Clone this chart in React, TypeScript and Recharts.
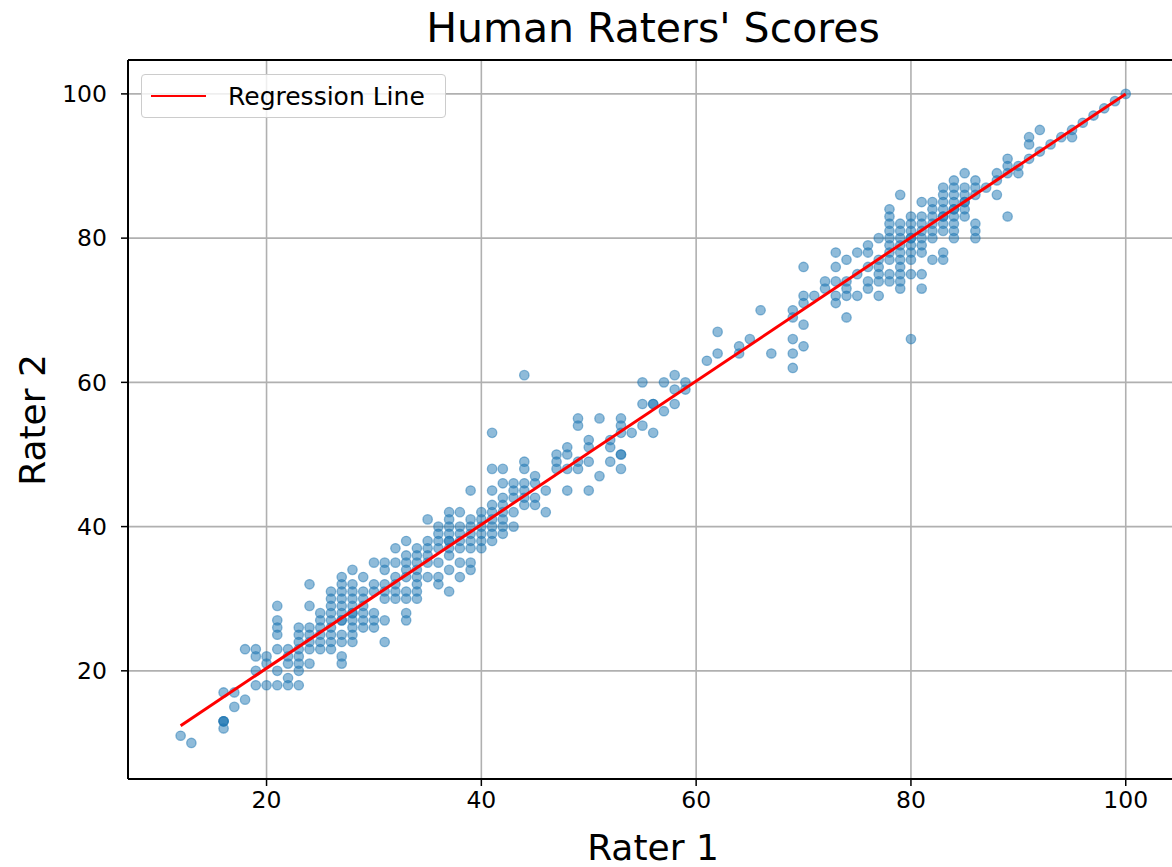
import React from 'react';
import { ScatterChart, Scatter, XAxis, YAxis, CartesianGrid, ReferenceLine } from 'recharts';

// Rater 1 score -> list of Rater 2 scores
const scoreColumns: [number, number[]][] = [
  [12, [11]],
  [13, [10]],
  [16, [13, 13, 13, 12, 17]],
  [17, [17, 15]],
  [18, [16, 23]],
  [19, [23, 22, 20, 18]],
  [20, [22, 21, 18]],
  [21, [29, 27, 26, 25, 23, 20, 18]],
  [22, [23, 22, 21, 19, 18]],
  [23, [26, 25, 24, 23, 22, 21, 20, 18]],
  [24, [32, 29, 26, 25, 24, 23, 21]],
  [25, [28, 27, 26, 25, 24, 23]],
  [26, [31, 30, 29, 28, 27, 26, 25, 24, 23]],
  [27, [33, 32, 31, 30, 29, 28, 27, 27, 25, 24, 22, 21]],
  [28, [34, 32, 31, 30, 29, 28, 28, 27, 26, 25, 24]],
  [29, [33, 31, 30, 29, 28, 27, 26]],
  [30, [35, 32, 31, 28, 27, 26]],
  [31, [35, 34, 32, 31, 30, 27, 24]],
  [32, [37, 35, 33, 32, 31, 30]],
  [33, [38, 36, 35, 34, 33, 31, 30, 28, 27]],
  [34, [37, 36, 35, 34, 33, 32, 31, 30]],
  [35, [41, 38, 37, 36, 35, 33]],
  [36, [40, 39, 38, 37, 35, 33, 32]],
  [37, [42, 41, 40, 39, 38, 38, 37, 36, 34, 31]],
  [38, [42, 40, 39, 38, 37, 35, 33]],
  [39, [45, 41, 40, 39, 38, 37, 35, 34]],
  [40, [42, 41, 40, 39, 38, 37]],
  [41, [53, 48, 45, 43, 42, 41, 40, 39, 38]],
  [42, [48, 46, 44, 43, 42, 41, 40, 39]],
  [43, [46, 45, 44, 42, 40]],
  [44, [61, 49, 48, 46, 45, 44, 43]],
  [45, [47, 46, 44, 43]],
  [46, [45, 42]],
  [47, [50, 49, 48]],
  [48, [51, 50, 48, 45]],
  [49, [55, 54, 49, 48]],
  [50, [52, 51, 49, 45]],
  [51, [55, 47]],
  [52, [52, 51, 49]],
  [53, [55, 54, 53, 50, 50, 48]],
  [54, [53]],
  [55, [60, 57, 54]],
  [56, [57, 57, 53]],
  [57, [60, 56]],
  [58, [61, 59, 57]],
  [59, [60, 59]],
  [61, [63]],
  [62, [67, 64]],
  [64, [65, 64]],
  [65, [66]],
  [66, [70]],
  [67, [64]],
  [69, [70, 69, 66, 64, 62]],
  [70, [76, 72, 71, 68, 65]],
  [71, [72]],
  [72, [74, 73]],
  [73, [78, 76, 74, 72, 71]],
  [74, [77, 74, 73, 72, 69]],
  [75, [78, 75, 72]],
  [76, [79, 78, 76, 74, 73]],
  [77, [80, 77, 76, 75, 74, 72]],
  [78, [84, 83, 82, 81, 80, 79, 78, 77, 75, 74]],
  [79, [86, 82, 81, 80, 79, 78, 77, 76, 75, 74, 73]],
  [80, [83, 82, 81, 80, 80, 79, 78, 77, 75, 66]],
  [81, [85, 83, 82, 81, 80, 79, 78, 75, 73]],
  [82, [85, 84, 83, 82, 81, 80, 77]],
  [83, [87, 86, 85, 84, 83, 83, 82, 81, 78, 77]],
  [84, [88, 87, 86, 85, 84, 84, 83, 82, 81, 80]],
  [85, [89, 87, 86, 85, 85, 84, 83]],
  [86, [88, 87, 86, 82, 81, 80]],
  [87, [87]],
  [88, [89, 88, 86]],
  [89, [91, 90, 89, 83]],
  [90, [90, 89]],
  [91, [94, 93, 91]],
  [92, [95, 92]],
  [93, [93]],
  [94, [94]],
  [95, [95, 94]],
  [96, [96]],
  [97, [97]],
  [98, [98]],
  [99, [99]],
  [100, [100]],
];

// fitted line end points
const regressionX = [12, 100];
const regressionY = [12.4, 100];

const xTicks = [20, 40, 60, 80, 100];
const yTicks = [20, 40, 60, 80, 100];
const xDomain = [7.1, 104.4];
const yDomain = [5.0, 104.7];

const points = scoreColumns.flatMap(([r1, r2s]) => r2s.map((r2) => ({ r1, r2 })));
const regression = regressionX.map((x, i) => ({ r1: x, r2: regressionY[i] }));

const FONT = "'DejaVu Sans', sans-serif";

const Dot = (props: any) => {
  const { cx, cy } = props;
  return (
    <circle
      cx={cx}
      cy={cy}
      r={4.7}
      fill="#1f77b4"
      fillOpacity={0.5}
      stroke="#1f77b4"
      strokeOpacity={0.5}
      strokeWidth={1.3}
    />
  );
};

const LegendBox = () => (
  <div
    style={{
      position: 'absolute',
      left: 141,
      top: 74,
      width: 303,
      height: 42,
      border: '1px solid #cccccc',
      borderRadius: 4,
      background: 'rgba(255,255,255,0.8)',
      display: 'flex',
      alignItems: 'center',
      fontFamily: FONT,
      fontSize: 25,
      color: '#000',
      whiteSpace: 'nowrap',
    }}
  >
    <div style={{ width: 55, height: 2.6, background: '#ff0000', marginLeft: 9, marginRight: 22, flexShrink: 0 }} />
    <span>Regression Line</span>
  </div>
);

export default function App() {
  return (
    <div style={{ position: 'absolute', left: 0, top: 0, width: 1172, height: 867, overflow: 'hidden', background: '#fff' }}>
      <ScatterChart width={1180} height={867} margin={{ top: 60, right: 7, bottom: 48, left: 58 }}>
        <CartesianGrid stroke="#b0b0b0" strokeWidth={1.6} />
        <XAxis
          type="number"
          dataKey="r1"
          domain={xDomain}
          ticks={xTicks}
          allowDataOverflow
          height={40}
          axisLine={{ stroke: '#000', strokeWidth: 2 }}
          tickLine={{ stroke: '#000', strokeWidth: 1.5 }}
          tickSize={7}
          tickMargin={5}
          tick={{ fill: '#000', fontSize: 23.5, fontFamily: FONT }}
        />
        <YAxis
          type="number"
          dataKey="r2"
          domain={yDomain}
          ticks={yTicks}
          allowDataOverflow
          width={70}
          axisLine={{ stroke: '#000', strokeWidth: 2 }}
          tickLine={{ stroke: '#000', strokeWidth: 1.5 }}
          tickSize={7}
          tickMargin={14}
          tick={{ fill: '#000', fontSize: 23.5, fontFamily: FONT }}
        />
        <ReferenceLine y={yDomain[1]} stroke="#000" strokeWidth={2} />
        <ReferenceLine x={xDomain[1]} stroke="#000" strokeWidth={2} />
        <Scatter data={points} shape={Dot} isAnimationActive={false} legendType="none" />
        <Scatter
          data={regression}
          line={{ stroke: '#ff0000', strokeWidth: 3 }}
          shape={() => <g />}
          isAnimationActive={false}
          legendType="none"
        />
      </ScatterChart>
      <LegendBox />
      <svg
        width={1172}
        height={867}
        style={{ position: 'absolute', left: 0, top: 0, pointerEvents: 'none' }}
      >
        <text x={653} y={42} textAnchor="middle" fontFamily={FONT} fontSize={41} fill="#000">
          Human Raters' Scores
        </text>
        <text x={653} y={860} textAnchor="middle" fontFamily={FONT} fontSize={36} fill="#000">
          Rater 1
        </text>
        <text
          x={45}
          y={420}
          textAnchor="middle"
          fontFamily={FONT}
          fontSize={36}
          fill="#000"
          transform="rotate(-90, 45, 420)"
        >
          Rater 2
        </text>
      </svg>
    </div>
  );
}
